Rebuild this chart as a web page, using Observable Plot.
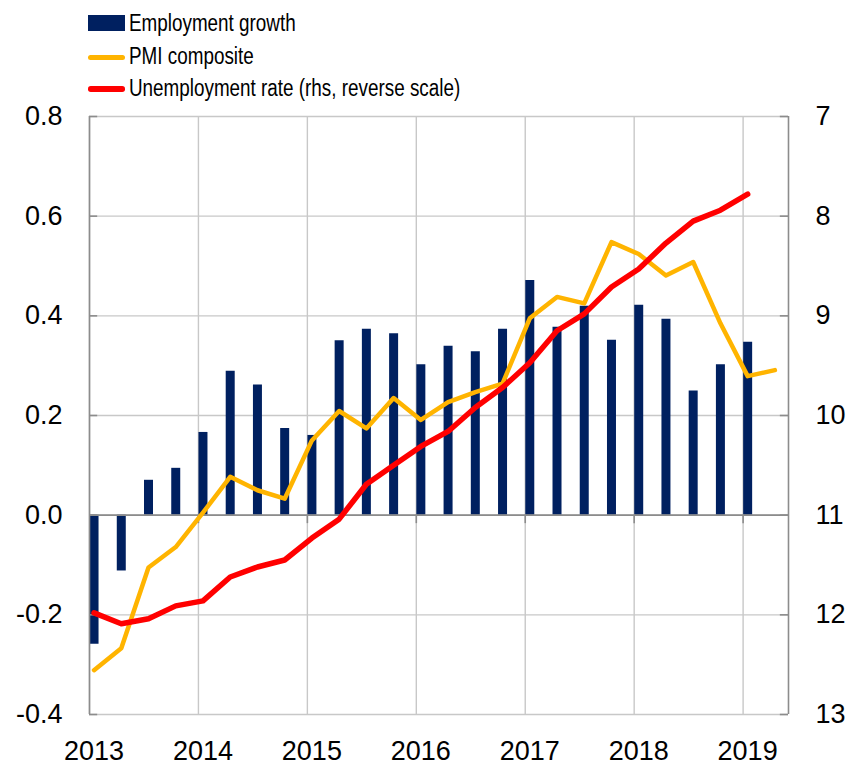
<!DOCTYPE html>
<html>
<head>
<meta charset="utf-8">
<script src="https://cdn.jsdelivr.net/npm/d3@7"></script>
<script src="https://cdn.jsdelivr.net/npm/@observablehq/plot@0.6"></script>
<style>
  html, body { margin: 0; padding: 0; background: #fff; }
  #wrap { width: 850px; }
  #legend { position: relative; width: 850px; height: 100px; font-family: 'Liberation Sans Narrow', 'Liberation Sans', Arial, sans-serif; font-size: 23px; color: #000; }
  #legend .sw { position: absolute; left: 88px; width: 37px; }
  #legend .lab { position: absolute; left: 129px; white-space: nowrap; line-height: 1; transform-origin: 0 50%; }
</style>
</head>
<body>
<div id="wrap">
  <div id="legend"></div>
  <div id="chart"></div>
</div>
<script>
// ---- data ----
const quarters = ["2013Q1","2013Q2","2013Q3","2013Q4","2014Q1","2014Q2","2014Q3","2014Q4",
  "2015Q1","2015Q2","2015Q3","2015Q4","2016Q1","2016Q2","2016Q3","2016Q4",
  "2017Q1","2017Q2","2017Q3","2017Q4","2018Q1","2018Q2","2018Q3","2018Q4",
  "2019Q1","2019Q2"];
const employmentGrowth = [-0.259, -0.112, 0.070, 0.094, 0.166, 0.289, 0.261, 0.174,
  0.160, 0.350, 0.373, 0.364, 0.302, 0.339, 0.328, 0.373,
  0.471, 0.377, 0.419, 0.351, 0.421, 0.393, 0.249, 0.302, 0.347];
const pmiComposite = [-0.311, -0.267, -0.105, -0.064, 0.005, 0.077, 0.050, 0.033,
  0.150, 0.209, 0.174, 0.235, 0.191, 0.227, 0.247, 0.264,
  0.395, 0.438, 0.425, 0.548, 0.524, 0.481, 0.508, 0.385, 0.279, 0.291];
const unemploymentRate = [11.98, 12.09, 12.04, 11.91, 11.86, 11.62, 11.52, 11.45,
  11.23, 11.04, 10.69, 10.50, 10.31, 10.16, 9.92, 9.72,
  9.47, 9.15, 8.98, 8.71, 8.53, 8.27, 8.05, 7.94, 7.78];
const years = [2013, 2014, 2015, 2016, 2017, 2018, 2019];
const leftTicks = [-0.4, -0.2, 0.0, 0.2, 0.4, 0.6, 0.8];
const rightTicks = [7, 8, 9, 10, 11, 12, 13];
const seriesNames = ["Employment growth", "PMI composite", "Unemployment rate (rhs, reverse scale)"];

// ---- helpers ----
const navy = "#002060", orange = "#FFB400", red = "#FF0000";
const gridColor = "#c8c8c8", axisColor = "#8c8c8c";
const xStart = 2013, xEnd = 2019 + 5 / 12;
// quarter position: first month of the quarter, mid-month
const qx = q => +q.slice(0, 4) + (+q[5] - 1) / 4 + 1 / 24;
// right axis (7..13, reversed) mapped onto left axis (0.8..-0.4)
const toLeft = u => 0.8 - (u - 7) * 0.2;
const fromLeft = v => 7 + (0.8 - v) / 0.2;

const empData = employmentGrowth.map((v, i) => ({x: qx(quarters[i]), v}));
const pmiData = pmiComposite.map((v, i) => ({x: qx(quarters[i]), v}));
const unData = unemploymentRate.map((v, i) => ({x: qx(quarters[i]), v}));

const chart = Plot.plot({
  width: 850,
  height: 664,
  marginTop: 16,
  marginBottom: 50,
  marginLeft: 89,
  marginRight: 62,
  x: {domain: [xStart, xEnd]},
  y: {domain: [-0.4, 0.8]},
  style: {fontFamily: "'Liberation Sans', Arial, sans-serif", fontSize: "27px", color: "#000", background: "#fff", overflow: "visible"},
  marks: [
    Plot.ruleX(years, {x: d => d, stroke: gridColor, strokeWidth: 1.4}),
    Plot.ruleY(leftTicks, {y: d => d, stroke: gridColor, strokeWidth: 1.4}),
    Plot.ruleX(empData, {x: "x", y1: 0, y2: "v", stroke: navy, strokeWidth: 9}),
    Plot.ruleY([0], {stroke: axisColor, strokeWidth: 1.6}),
    Plot.ruleX(years.slice(1), {x: d => d, y1: 0, y2: -0.017, stroke: axisColor, strokeWidth: 1.6}),
    Plot.ruleX([xStart], {stroke: axisColor, strokeWidth: 1.6}),
    Plot.ruleX([xEnd], {stroke: axisColor, strokeWidth: 1.6}),
    Plot.ruleY(leftTicks, {y: d => d, x1: xStart, x2: xStart + 0.075, stroke: axisColor, strokeWidth: 1.6}),
    Plot.ruleY(rightTicks.map(toLeft), {y: d => d, x1: xEnd - 0.075, x2: xEnd, stroke: axisColor, strokeWidth: 1.6}),
    Plot.line(pmiData, {x: "x", y: "v", stroke: orange, strokeWidth: 4.5, strokeLinejoin: "round"}),
    Plot.line(unData, {x: "x", y: d => toLeft(d.v), stroke: red, strokeWidth: 5.5, strokeLinejoin: "round"}),
    Plot.axisY({anchor: "left", ticks: leftTicks, tickSize: 0, tickPadding: 27, tickFormat: d => d.toFixed(1), label: null}),
    Plot.axisY({anchor: "right", ticks: rightTicks.map(toLeft), tickSize: 0, tickPadding: 27, tickFormat: d => String(Math.round(fromLeft(d))), label: null}),
    Plot.axisX({anchor: "bottom", ticks: years, tickSize: 0, tickPadding: 26, dx: 4.5, tickFormat: d => String(d), label: null})
  ]
});
document.getElementById("chart").appendChild(chart);

// ---- legend ----
const legend = document.getElementById("legend");
function narrowAvailable() {
  const c = document.createElement("canvas").getContext("2d");
  c.font = "23px monospace";
  const a = c.measureText("Employment growth").width;
  c.font = "23px 'Liberation Sans Narrow', monospace";
  const b = c.measureText("Employment growth").width;
  return Math.abs(a - b) > 0.5;
}
const hasNarrow = narrowAvailable();
const swatches = [
  {top: 15, h: 16, color: navy, radius: 0},
  {top: 54.5, h: 5, color: orange, radius: 2.5},
  {top: 86, h: 5.5, color: red, radius: 2.75}
];
const baselines = [31.7, 65, 96.7];
seriesNames.forEach((name, i) => {
  const s = document.createElement("div");
  s.className = "sw";
  s.style.top = swatches[i].top + "px";
  s.style.height = swatches[i].h + "px";
  s.style.background = swatches[i].color;
  s.style.borderRadius = swatches[i].radius + "px";
  legend.appendChild(s);
  const t = document.createElement("div");
  t.className = "lab";
  t.textContent = name;
  t.style.top = (baselines[i] - 20) + "px";
  if (!hasNarrow) {
    t.style.fontFamily = "'Liberation Sans', Arial, sans-serif";
    t.style.transform = "scaleX(0.82)";
  }
  legend.appendChild(t);
});
</script>
</body>
</html>
